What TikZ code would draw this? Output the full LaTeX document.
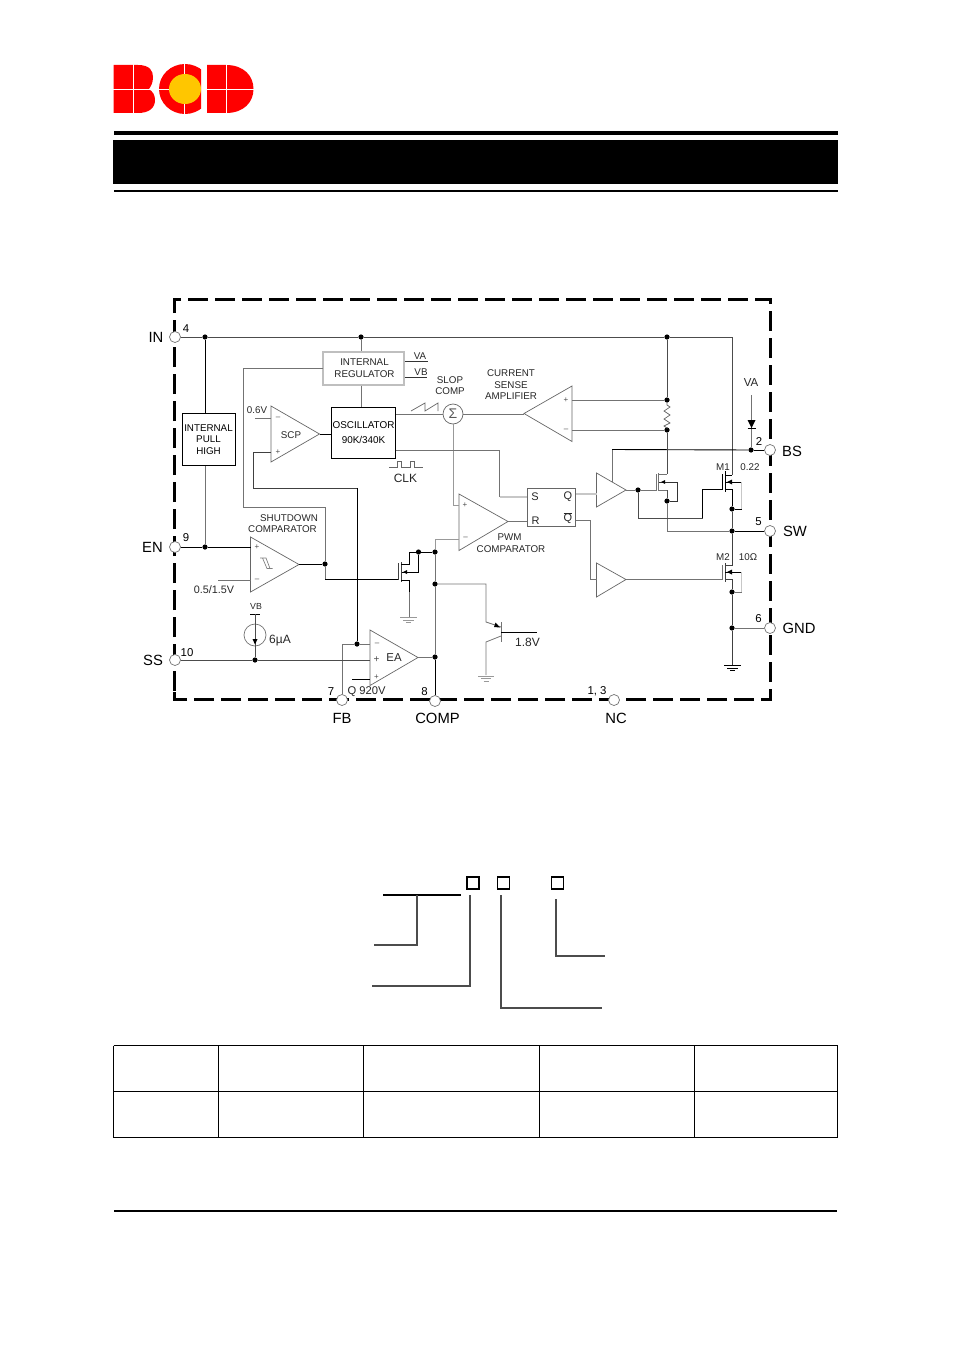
\documentclass[tikz,border=0pt]{standalone}
\usepackage{fontspec}
\setmainfont{Liberation Sans}
\tikzset{
  wire/.style={draw=black!55,line width=0.8pt},
  bwire/.style={draw=black,line width=0.9pt},
  lwire/.style={draw=black!22,line width=1.4pt},
  part/.style={draw=black!60,line width=0.7pt},
  blockbox/.style={draw=black,line width=0.9pt,fill=white,align=center,font=\fontsize{9.9}{15.5}\selectfont,inner sep=0pt},
  pinnode/.style={circle,draw=black!55,fill=white,minimum size=11pt,inner sep=0pt,line width=0.7pt},
  jdot/.style={circle,fill=black,minimum size=5.2pt,inner sep=0pt},
  lbl/.style={font=\fontsize{9.8}{11.5}\selectfont,align=center,inner sep=0pt,text=black!85},
  pinlbl/.style={font=\fontsize{14.8}{16}\selectfont,inner sep=0pt},
  numlbl/.style={font=\fontsize{11.4}{12}\selectfont,inner sep=0pt},
  tick/.style={font=\fontsize{8}{9}\selectfont,inner sep=0pt,text=black!70},
  cellline/.style={draw=black,line width=0.7pt},
  optbox/.style={draw=black,line width=1.3pt,minimum size=12pt,inner sep=0pt},
  optline/.style={draw=black!70,line width=1.2pt}
}
\definecolor{logored}{RGB}{255,0,0}
\definecolor{logoyellow}{RGB}{255,198,0}
\begin{document}
\begin{tikzpicture}[x=1pt,y=-1pt]
  \useasboundingbox (0,0) rectangle (954,1351);

  % Logo
  \fill[logored] (113.5,65) -- (138,65) .. controls (150,65) and (153,71) .. (153,77)
    .. controls (153,83) and (151,86) .. (149,89) .. controls (153,92) and (155,95) .. (155,100)
    .. controls (155,108) and (149,113) .. (138,113) -- (113.5,113) -- cycle;
  \begin{scope}
    \clip (150,60) rectangle (201,118);
    \fill[logored] (185,89) ellipse [x radius=26,y radius=25];
    \fill[logoyellow] (185,89) ellipse [x radius=16,y radius=15];
  \end{scope}
  \fill[logored] (207,65) -- (226,65) .. controls (244,65) and (253.5,76) .. (253.5,89)
    .. controls (253.5,102) and (244,113) .. (226,113) -- (207,113) -- cycle;
  \draw[white,line width=0.9pt] (133,64) -- (133,114) (113,89.5) -- (159,89.5);
  \draw[white,line width=0.9pt] (184.5,63) -- (184.5,74) (184.5,104) -- (184.5,115) (159,89.5) -- (169,89.5);
  \draw[white,line width=0.9pt] (226.5,64) -- (226.5,114) (206,89.5) -- (254,89.5);

  % Header bars
  \fill (113.5,131) rectangle (838,135);
  \fill (113,140) rectangle (838,184);
  \fill (113.5,190) rectangle (838,192);

  % Outer dashed frame
  \draw[line width=2.8pt,dash pattern=on 20pt off 7pt] (174.5,691) -- (174.5,299.5) -- (770.5,299.5) -- (770.5,699.5) -- (174.5,699.5) -- cycle;

  % Pins
  \node[pinnode] (pinIN) at (175,337) {};
  \node[pinnode] (pinEN) at (175,547) {};
  \node[pinnode] (pinSS) at (175,660) {};
  \node[pinnode] (pinFB) at (342,700) {};
  \node[pinnode] (pinCOMP) at (435,701) {};
  \node[pinnode] (pinNC) at (614,700) {};
  \node[pinnode] (pinBS) at (770,450) {};
  \node[pinnode] (pinSW) at (770,531) {};
  \node[pinnode] (pinGND) at (770,628) {};
  \node[pinlbl] (txtIN) at (156,337) {IN};
  \node[pinlbl] (txtEN) at (152.5,547) {EN};
  \node[pinlbl] (txtSS) at (153,660) {SS};
  \node[pinlbl] (txtFB) at (342,718.5) {FB};
  \node[pinlbl] (txtCOMP) at (437.5,718.5) {COMP};
  \node[pinlbl] (txtNC) at (616,718.5) {NC};
  \node[pinlbl] (txtBS) at (792,451) {BS};
  \node[pinlbl] (txtSW) at (795,531) {SW};
  \node[pinlbl] (txtGND) at (799,628.5) {GND};
  \node[numlbl] (num4) at (186,329) {4};
  \node[numlbl] (num9) at (186,538) {9};
  \node[numlbl] (num10) at (187,653) {10};
  \node[numlbl] (num7) at (331,692) {7};
  \node[numlbl] (num8) at (424.5,692) {8};
  \node[numlbl] (num13) at (597,691) {1, 3};
  \node[numlbl] (num2) at (759,442) {2};
  \node[numlbl] (num5) at (758.5,522) {5};
  \node[numlbl] (num6) at (758.5,619) {6};

  % Junction dots
  \foreach \nm/\x/\y in {jA/205/337,jB/361/337,jC/667/337,jD/205/547,jE/667/400,jF/667/430,
      jG/751/450,jH/638/490,jI/667/501,jJ/732/509,jK/732/531,jL/732/592,jM/732/628,
      jN/325/564,jO/418.5/552,jP/435/552,jQ/435/584,jR/435/657,jS/357/644,jT/255/660}
    \node[jdot] (\nm) at (\x,\y) {};

  % Blocks
  \node[blockbox,draw=black!25,line width=1.3pt,minimum width=81pt,minimum height=33pt,font=\fontsize{9.8}{12}\selectfont,text=black!85] (reg) at (363.5,368.5) {\hspace*{2pt}INTERNAL\\\hspace*{2pt}REGULATOR};
  \node[blockbox,minimum width=53pt,minimum height=52.5pt,font=\fontsize{9.8}{11.8}\selectfont] (pull) at (208.5,439.5) {INTERNAL\\PULL\\HIGH};
  \node[blockbox,minimum width=64.5pt,minimum height=51pt] (osc) at (363.5,432.5) {OSCILLATOR\\90K/340K};
  \node[part,minimum width=48.5pt,minimum height=38.5pt,inner sep=0pt] (srff) at (551.5,507.5) {};
  \node[lbl,font=\fontsize{11}{12}\selectfont] (srS) at (535,497) {S};
  \node[lbl,font=\fontsize{11}{12}\selectfont] (srQ) at (568,497) {Q};
  \node[lbl,font=\fontsize{11}{12}\selectfont] (srR) at (535.5,521) {R};
  \node[lbl,font=\fontsize{11}{12}\selectfont] (srQb) at (568,518) {$\overline{\mbox{Q}}$};

  % Amplifier triangles
  \draw[part] (271,406) -- (319.5,434) -- (271,462) -- cycle;
  \draw[part] (250.5,537) -- (299,564.5) -- (250.5,592) -- cycle;
  \draw[part] (370,630) -- (418,657.5) -- (370,685.5) -- cycle;
  \draw[part] (459,494) -- (508,521.5) -- (459,550.5) -- cycle;
  \draw[part] (572,386) -- (524,413.5) -- (572,441.5) -- cycle;
  \draw[part] (596.5,473) -- (626,490) -- (596.5,507) -- cycle;
  \draw[part] (596.5,563) -- (626,579.5) -- (596.5,597) -- cycle;
  \coordinate (scpOut) at (319.5,434);
  \coordinate (sdOut) at (299,564);
  \coordinate (eaOut) at (418,657);
  \coordinate (pwmOut) at (508,521);
  \coordinate (csaOut) at (524,414);
  \coordinate (drvHiOut) at (626,490);
  \coordinate (drvLoOut) at (626,579.5);
  \node[tick] (m1) at (278,418) {--};
  \node[tick] (p1) at (278,452) {+};
  \node[tick] (p2) at (257,547) {+};
  \node[tick] (m2) at (257,580) {--};
  \node[tick] (m3) at (377,644) {--};
  \node[tick,font=\fontsize{10}{10}\selectfont] (p3) at (376.5,660) {+};
  \node[tick] (p4) at (376.5,677) {+};
  \node[tick] (p5) at (465,505) {+};
  \node[tick] (m5) at (465.5,538) {--};
  \node[tick] (p6) at (566,400) {+};
  \node[tick] (m6) at (566,430) {--};

  % Text labels
  \node[lbl] (tVA) at (420,356.5) {VA};
  \node[lbl] (tVB) at (421,372) {VB};
  \node[lbl] (tSLOP) at (450,385.5) {SLOP\\COMP};
  \node[lbl] (tCSA) at (511,385) {CURRENT\\SENSE\\AMPLIFIER};
  \node[lbl,font=\fontsize{11.5}{12}\selectfont] (tVA2) at (751,383) {VA};
  \node[lbl] (t06) at (257,410) {0.6V};
  \node[lbl] (tSCP) at (291,435.5) {SCP};
  \node[lbl,font=\fontsize{12}{12}\selectfont] (tCLK) at (405.5,478) {CLK};
  \node[lbl] (tSD) at (282.5,523.5) {\hspace*{13pt}SHUTDOWN\\COMPARATOR};
  \node[lbl] (tPWM) at (511,543) {\hspace*{-3pt}PWM\\COMPARATOR};
  \node[lbl,font=\fontsize{10.8}{12}\selectfont] (tHys) at (214,590) {0.5/1.5V};
  \node[lbl,font=\fontsize{8.8}{10}\selectfont] (tVB2) at (256,606) {VB};
  \node[lbl,font=\fontsize{12}{12}\selectfont] (t6uA) at (280,641) {6µA};
  \node[lbl,font=\fontsize{11.4}{12}\selectfont] (tEA) at (394,658) {EA};
  \node[lbl,font=\fontsize{11.2}{12}\selectfont] (tRef) at (366.5,692) {Q 920V};
  \node[lbl,font=\fontsize{12}{12}\selectfont] (t18) at (527.5,642) {1.8V};
  \node[lbl] (tM1) at (723,467) {M1};
  \node[lbl] (t022) at (750,467) {0.22};
  \node[lbl] (tM2) at (723,557) {M2};
  \node[lbl] (t10) at (748,557) {10Ω};

  % Supply rail and top wires
  \draw[wire,draw=black!70] (pinIN) -- (jA);
  \draw[wire,draw=black!70] (jA) -- (jB);
  \draw[wire,draw=black!70] (jB) -- (jC);
  \coordinate (hiDrain) at (732,475);
  \coordinate (hiSource) at (732,489);
  \draw[wire,draw=black!70] (jC) -| (hiDrain);
  \draw[bwire] (jA) -- (pull.north -| jA);
  \draw[wire] (pull.south -| jD) -- (jD);
  \draw[bwire] (pinEN) -- (jD);
  \coordinate (sdPlus) at (250.5,547);
  \draw[bwire] (jD) -- (sdPlus);
  \draw[wire] (jB) -- (reg.north -| jB);
  \draw[wire] (reg.south -| jB) -- (osc.north -| jB);
  \coordinate (vaEnd) at (428,361.5);
  \coordinate (vbEnd) at (427,377);
  \draw[bwire,draw=black!80] (reg.east |- vaEnd) -- (vaEnd);
  \draw[bwire,draw=black!80] (reg.east |- vbEnd) -- (vbEnd);

  % Shutdown wiring
  \coordinate (regLeft) at (323,368);
  \draw[wire] (regLeft) -- (243,368) -- (243,507) -- (325,507) -- (jN);
  \draw[bwire] (sdOut) -- (jN);
  \coordinate (sdMinus) at (250.5,580);
  \coordinate (sdRef) at (218,580);
  \draw[wire] (sdRef) -- (sdMinus);
  \coordinate (nGate) at (398,579);
  \draw[wire] (jN) -- (325,579);
  \draw[bwire] (325,579) -- (nGate);

  % SCP and error amplifier wiring
  \coordinate (scpPlus) at (271,452);
  \coordinate (scpMinus) at (271,418);
  \coordinate (scpRef) at (255,418);
  \draw[wire] (scpRef) -- (scpMinus);
  \draw[bwire] (scpOut) -- (osc.west |- scpOut);
  \draw[wire,draw=black!75] (scpPlus) -- (253.5,452) -- (253.5,488) -- (357,488);
  \draw[bwire] (357,488) -- (jS);
  \coordinate (eaMinus) at (370,644);
  \coordinate (eaPlus) at (370,660);
  \coordinate (eaPlusB) at (370,679);
  \coordinate (eaRef) at (352,679);
  \draw[wire] (pinFB) -- (342,644) -- (jS);
  \draw[wire] (jS) -- (eaMinus);
  \draw[wire,draw=black!70] (pinSS) -- (jT);
  \draw[wire,draw=black!70] (jT) -- (eaPlus);
  \draw[bwire] (eaRef) -- (eaPlusB);
  \draw[wire] (eaOut) -- (jR);
  \draw[bwire] (jR) -- (pinCOMP);

  % COMP node and PWM comparator
  \coordinate (pwmMinus) at (459,539);
  \coordinate (pwmPlus) at (459,505);
  \draw[wire] (jR) -- (jQ);
  \draw[wire] (jQ) -- (jP);
  \draw[wire,draw=black!40] (jP) -- (435,539) -- (pwmMinus);
  \draw[wire] (pwmOut) -- (srff.west |- pwmOut);

  % Pull-down FET and its ground
  \coordinate (nGnd) at (409,617);
  \draw[wire,draw=black!75] (398,563) -- (398,580);
  \draw[wire,draw=black!75] (401,562) -- (401,582);
  \draw[bwire] (401,564) -- (409,564) -- (409,552) -- (jO);
  \draw[bwire] (jO) -- (jP);
  \draw[bwire] (401,580) -- (409,580) -- (409,592);
  \draw[wire] (409,592) -- (nGnd);
  \draw[bwire] (402,572) -- (418.5,572) -- (jO);
  \fill (403,572) -- (407,570) -- (407,574) -- cycle;
  \draw[wire,draw=black!40] (400,617) -- (417,617) (403,620) -- (414,620) (406,622.5) -- (411,622.5);

  % Soft start current source
  \coordinate (vbBar) at (255,614);
  \node[circle,draw=black!55,line width=0.7pt,minimum size=22pt,inner sep=0pt] (isrc) at (255,635) {};
  \draw[bwire] (250,614) -- (260,614);
  \draw[bwire,draw=black!70] (vbBar) -- (jT);
  \fill (252.5,639) -- (257.5,639) -- (255,644.5) -- cycle;

  % Hysteresis mark
  \draw[part,draw=black!50] (260,558) -- (266,558) -- (270,568.5) -- (272.5,568.5) (262.5,558) -- (267,568.5) -- (270,568.5);

  % Oscillator outputs and summing node
  \node[circle,draw=black!60,line width=0.7pt,minimum size=20pt,inner sep=0pt,font=\fontsize{14}{14}\selectfont,text=black!65] (sum) at (453,414) {Σ};
  \draw[wire] (osc.east |- sum) -- (sum);
  \draw[wire] (sum) -- (csaOut);
  \draw[wire,draw=black!40] (sum) -- (453,505) -- (pwmPlus);
  \draw[part] (411,411) -- (425,403) -- (425,411) -- (438,403) -- (438,411);
  \coordinate (srSet) at (527,497);
  \draw[wire] (395.5,450) -- (499.5,450) -- (499.5,497);
  \draw[lwire] (499.5,497) -- (srSet);
  \draw[part] (389,467.5) -- (397,467.5) -- (397,461.5) -- (401,461.5) -- (401,467.5) -- (410,467.5) -- (410,461.5) -- (414,461.5) -- (414,467.5) -- (423,467.5);

  % Current sense resistor
  \coordinate (senseP) at (572,400);
  \coordinate (senseM) at (572,430);
  \draw[wire] (senseP) -- (jE);
  \draw[wire] (senseM) -- (jF);
  \draw[wire,draw=black!70] (jC) -- (jE);
  \draw[part] (jE) -- (667,405) -- (670,407) -- (664,411) -- (670,415) -- (664,419) -- (670,423) -- (664,426) -- (667,428) -- (jF);

  % Q output, high side driver
  \coordinate (drvHiIn) at (596.5,494);
  \coordinate (drvHiVdd) at (612,481.5);
  \coordinate (smallDrain) at (667,474);
  \draw[lwire] (srff.east |- drvHiIn) -- (drvHiIn);
  \draw[wire] (drvHiVdd) -- (612,449.5);
  \draw[bwire] (612,449.5) -- (jG);
  \draw[bwire] (jG) -- (pinBS);
  \draw[wire] (drvHiOut) -- (jH);

  % Sense FET
  \draw[wire,draw=black!70] (jF) -- (smallDrain);
  \draw[wire] (jH) -- (656,490) -- (656,474);
  \draw[wire] (658.5,473) -- (658.5,491);
  \draw[wire] (smallDrain) -- (658.5,474);
  \draw[wire] (658.5,490) -- (667,490);
  \draw[wire,draw=black!70] (667,490) -- (jI);
  \draw[part,draw=black!80] (659,482) -- (677.5,482) -- (677.5,501) -- (jI);
  \fill (661,482) -- (665,480) -- (665,484) -- cycle;
  \draw[wire] (jI) -- (667,531) -- (jK);

  % M1 and bootstrap diode
  \draw[wire,draw=black!70] (jH) -- (638,518) -- (702.5,518);
  \draw[bwire] (702.5,518) -- (702.5,489) -- (722.5,489);
  \draw[bwire] (722.5,474) -- (722.5,490);
  \draw[bwire] (725,471) -- (725,492);
  \draw[bwire] (725,475) -- (hiDrain);
  \draw[bwire] (725,489) -- (hiSource);
  \draw[bwire] (hiSource) -- (jJ);
  \draw[bwire] (725,482) -- (741.5,482);
  \draw[lwire] (741.5,482) -- (741.5,509);
  \draw[bwire] (741.5,509) -- (jJ);
  \fill (727,482) -- (732,479.5) -- (732,484.5) -- cycle;
  \draw[wire,draw=black!70] (jJ) -- (jK);
  \draw[bwire] (jK) -- (pinSW);
  \coordinate (vaTop) at (751,395);
  \draw[wire] (vaTop) -- (jG);
  \fill (747.5,420) -- (755.5,420) -- (751.5,428) -- cycle;
  \draw[bwire] (747.5,428) -- (755.5,428);

  % Qbar output, low side driver and M2
  \coordinate (drvLoIn) at (596.5,579);
  \draw[wire] (srff.east |- 0,520) -- (590,520) -- (590,579) -- (drvLoIn);
  \coordinate (loDrain) at (732,565);
  \coordinate (loSource) at (732,579);
  \draw[wire] (drvLoOut) -- (722,579.5);
  \draw[wire] (722,565) -- (722,580);
  \draw[wire,draw=black!75] (725,563) -- (725,582);
  \draw[wire,draw=black!75] (jK) -- (loDrain) -- (725,565);
  \draw[wire,draw=black!75] (725,579) -- (loSource) -- (jL);
  \draw[bwire] (725,572) -- (741.5,572);
  \draw[lwire] (741.5,572) -- (741.5,592);
  \draw[wire] (741.5,592) -- (jL);
  \fill (727,572) -- (732,569.5) -- (732,574.5) -- cycle;
  \coordinate (gndB) at (732,665);
  \draw[wire,draw=black!75] (jL) -- (jM);
  \draw[wire,draw=black!75] (jM) -- (gndB);
  \draw[wire] (jM) -- (pinGND);
  \draw[bwire] (724,665) -- (741,665);
  \draw[bwire,line width=0.7pt] (727,668) -- (738,668) (730,670.5) -- (735,670.5);

  % Bipolar clamp
  \coordinate (clampBase) at (537,632);
  \coordinate (clampGnd) at (486,675);
  \draw[wire] (jQ) -- (486,584) -- (486,622) -- (501,627);
  \draw[wire] (501,636) -- (486,642) -- (clampGnd);
  \draw[wire] (501,622) -- (501,642);
  \draw[bwire] (501,632) -- (clampBase);
  \fill (500,627.5) -- (495.5,622.5) -- (494,627) -- cycle;
  \draw[wire,draw=black!40] (478,676) -- (494,676) (481,678.5) -- (491,678.5) (483.5,681) -- (488.5,681);

  % Ordering information
  \node[optbox,line width=1.8pt] (optA) at (473,883) {};
  \node[optbox] (optB) at (503.5,883) {};
  \node[optbox] (optC) at (557.5,883) {};
  \coordinate (optT) at (417,895);
  \draw[optline,draw=black] (383,895) -- (optT);
  \draw[optline,draw=black] (optT) -- (461,895);
  \draw[optline] (optT) -- (417,945) -- (374,945);
  \draw[optline] (470,895) -- (470,986) -- (372,986);
  \draw[optline] (501,895) -- (501,1008) -- (602,1008);
  \draw[optline] (556,899) -- (556,956) -- (605,956);

  % Table grid
  \foreach \x in {113.5,218.5,363.5,539.5,694.5,837.5}
    \draw[cellline] (\x,1045.5) -- (\x,1137.5);
  \foreach \y in {1045.5,1091.5,1137.5}
    \draw[cellline] (113.5,\y) -- (837.5,\y);

  % Footer rule
  \fill (113.5,1210) rectangle (837,1211.5);
\end{tikzpicture}
\end{document}
